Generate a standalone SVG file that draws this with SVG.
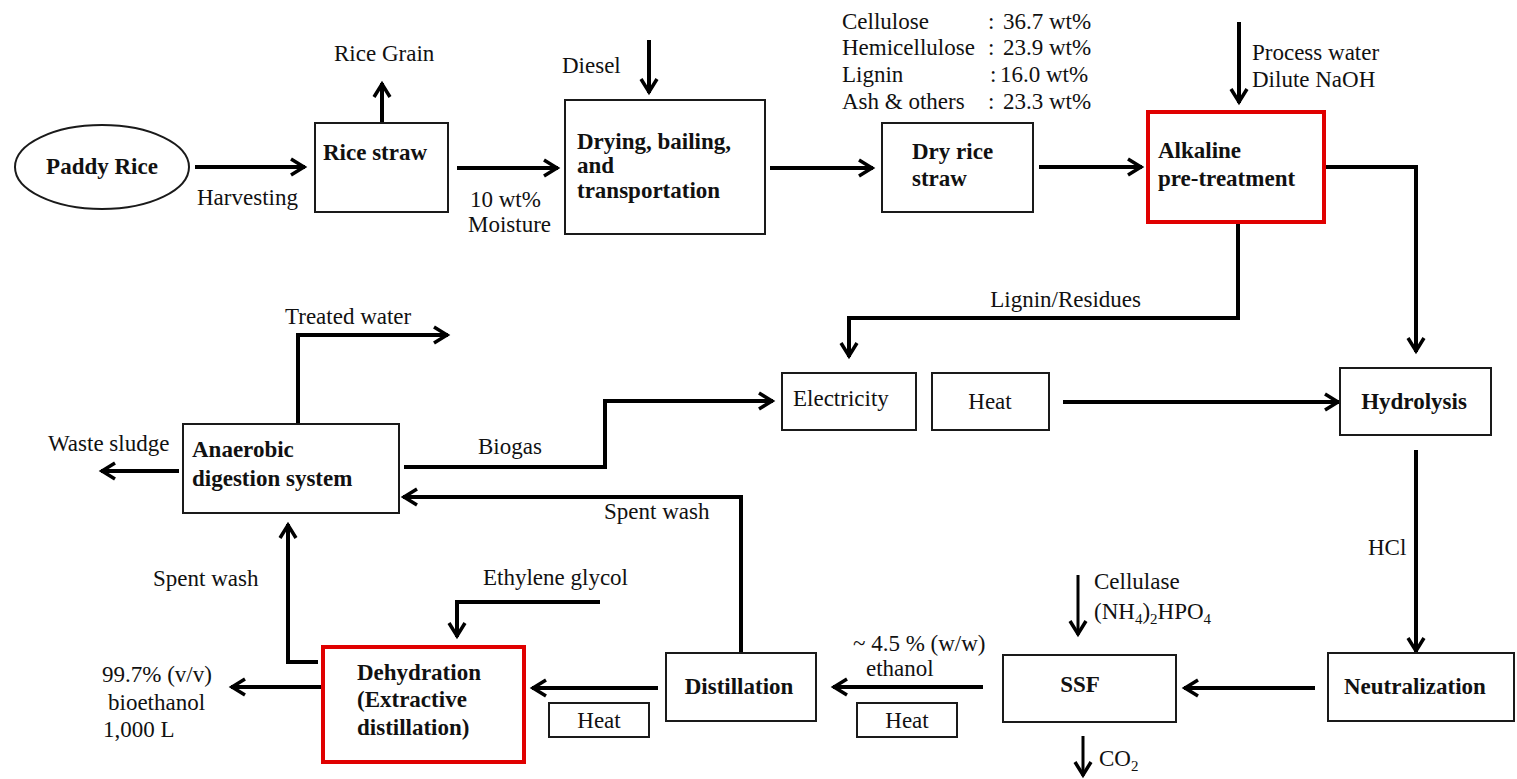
<svg xmlns="http://www.w3.org/2000/svg" width="1517" height="779" viewBox="0 0 1517 779">
<style>
text{font-family:"Liberation Serif","Times New Roman",serif;font-size:23px;fill:#111}
.b{font-weight:bold}
.m{text-anchor:middle}
.e{text-anchor:end}
.box{fill:#fff;stroke:#1a1a1a;stroke-width:2}
.red{fill:#fff;stroke:#e00000;stroke-width:4}
.c{fill:none;stroke:#000;stroke-width:4;marker-end:url(#ah)}
.cn{fill:none;stroke:#000;stroke-width:4}
.t{fill:none;stroke:#000;stroke-width:3;marker-end:url(#ah)}
.sub{font-size:15px}
</style>
<defs>
<marker id="ah" markerUnits="userSpaceOnUse" markerWidth="22" markerHeight="22" viewBox="0 0 22 22" refX="18" refY="11" orient="auto" overflow="visible">
<path d="M4,3 L17,11 L4,19" fill="none" stroke="#000" stroke-width="3.5"/>
</marker>
</defs>
<rect width="1517" height="779" fill="#fff"/>

<g id="connectors">
<path class="c" d="M195,167 H305"/>
<path class="c" d="M382,123 V83"/>
<path class="c" d="M457,168 H558"/>
<path class="c" d="M649,40 V93"/>
<path class="c" d="M770,168 H873"/>
<path class="c" d="M1039,167 H1142"/>
<path class="c" d="M1239,22 V103"/>
<path class="c" d="M1324,167 H1416 V352"/>
<path class="c" d="M1238,222 V318 H849 V357"/>
<path class="c" d="M1063,402 H1339"/>
<path class="c" d="M1416,450 V652"/>
<path class="c" d="M1315,688 H1184"/>
<path class="t" d="M1078,575 V635"/>
<path class="t" d="M1083,736 V776"/>
<path class="c" d="M983,687 H833"/>
<path class="c" d="M658,688 H532"/>
<path class="c" d="M741,653 V497 H403"/>
<path class="c" d="M600,602 H457 V637"/>
<path class="c" d="M318,662 H288 V524"/>
<path class="c" d="M325,687 H231"/>
<path class="c" d="M179,471 H101"/>
<path class="c" d="M298,424 V335 H448"/>
<path class="c" d="M404,467 H605 V401 H773"/>
</g>

<g id="labels">
<text x="197" y="205">Harvesting</text>
<text x="334" y="61">Rice Grain</text>
<text x="470" y="207">10 wt%</text>
<text x="468" y="232">Moisture</text>
<text x="562" y="73">Diesel</text>
<text x="842" y="29">Cellulose</text>
<text x="842" y="55">Hemicellulose</text>
<text x="842" y="82">Lignin</text>
<text x="842" y="109">Ash &amp; others</text>
<text x="988" y="29">:</text><text x="1003" y="29">36.7 wt%</text>
<text x="988" y="55">:</text><text x="1003" y="55">23.9 wt%</text>
<text x="990" y="82">:</text><text x="1000" y="82">16.0 wt%</text>
<text x="988" y="109">:</text><text x="1003" y="109">23.3 wt%</text>
<text x="1252" y="60">Process water</text>
<text x="1252" y="87">Dilute NaOH</text>
<text class="e" x="1141" y="307">Lignin/Residues</text>
<text x="285" y="324">Treated water</text>
<text x="48" y="451">Waste sludge</text>
<text x="478" y="454">Biogas</text>
<text x="604" y="519">Spent wash</text>
<text x="153" y="586">Spent wash</text>
<text x="483" y="585">Ethylene glycol</text>
<text x="1368" y="555">HCl</text>
<text x="1094" y="589">Cellulase</text>
<text x="1094" y="619">(NH<tspan class="sub" dy="5">4</tspan><tspan dy="-5">)</tspan><tspan class="sub" dy="5">2</tspan><tspan dy="-5">HPO</tspan><tspan class="sub" dy="5">4</tspan></text>
<text x="1099" y="766">CO<tspan class="sub" dy="5">2</tspan></text>
<text x="853" y="651">~ 4.5 % (w/w)</text>
<text x="866" y="676">ethanol</text>
<text x="102" y="682">99.7% (v/v)</text>
<text x="108" y="710">bioethanol</text>
<text x="103" y="737">1,000 L</text>
</g>

<g id="paddy-rice">
<ellipse class="box" cx="102" cy="167" rx="87" ry="42"/>
<text class="b m" x="102" y="174">Paddy Rice</text>
</g>
<g id="rice-straw">
<rect class="box" x="315" y="123" width="133" height="89"/>
<text class="b" x="323" y="160">Rice straw</text>
</g>
<g id="drying">
<rect class="box" x="565" y="100" width="200" height="134"/>
<text class="b" x="577" y="149">Drying, bailing,</text>
<text class="b" x="577" y="173">and</text>
<text class="b" x="577" y="198">transportation</text>
</g>
<g id="dry-rice-straw">
<rect class="box" x="882" y="123" width="151" height="89"/>
<text class="b" x="912" y="159">Dry rice</text>
<text class="b" x="912" y="186">straw</text>
</g>
<g id="alkaline">
<rect class="red" x="1148" y="112" width="176" height="110"/>
<text class="b" x="1158" y="158">Alkaline</text>
<text class="b" x="1158" y="186">pre-treatment</text>
</g>
<g id="electricity">
<rect class="box" x="782" y="373" width="134" height="57"/>
<text x="793" y="406">Electricity</text>
</g>
<g id="heat-top">
<rect class="box" x="932" y="373" width="117" height="57"/>
<text class="m" x="990" y="409">Heat</text>
</g>
<g id="hydrolysis">
<rect class="box" x="1340" y="368" width="151" height="67"/>
<text class="b m" x="1414" y="409">Hydrolysis</text>
</g>
<g id="anaerobic">
<rect class="box" x="183" y="424" width="216" height="89"/>
<text class="b" x="192" y="457">Anaerobic</text>
<text class="b" x="192" y="486">digestion system</text>
</g>
<g id="neutralization">
<rect class="box" x="1328" y="653" width="186" height="68"/>
<text class="b" x="1344" y="694">Neutralization</text>
</g>
<g id="ssf">
<rect class="box" x="1003" y="655" width="173" height="67"/>
<text class="b m" x="1080" y="692">SSF</text>
</g>
<g id="distillation">
<rect class="box" x="666" y="653" width="150" height="68"/>
<text class="b m" x="739" y="694">Distillation</text>
</g>
<g id="dehydration">
<rect class="red" x="323" y="647" width="201" height="115"/>
<text class="b" x="357" y="680">Dehydration</text>
<text class="b" x="357" y="707">(Extractive</text>
<text class="b" x="357" y="735">distillation)</text>
</g>
<g id="heat-dist">
<rect class="box" x="549" y="703" width="100" height="34"/>
<text class="m" x="599" y="728">Heat</text>
</g>
<g id="heat-ssf">
<rect class="box" x="857" y="703" width="100" height="34"/>
<text class="m" x="907" y="728">Heat</text>
</g>
</svg>
